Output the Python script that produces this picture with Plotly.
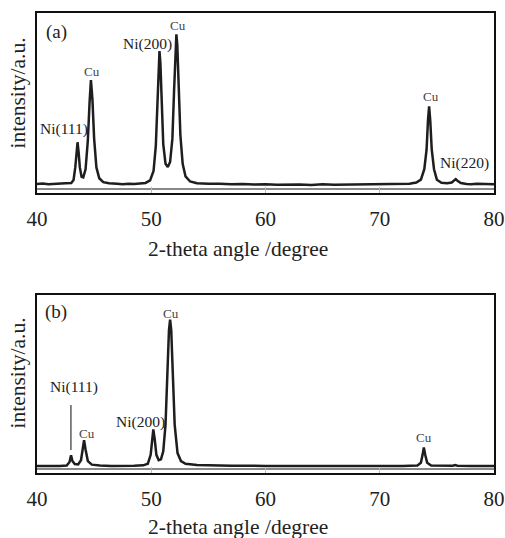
import plotly.graph_objects as go

# ---------------- data ----------------
# panel (a)
two_theta_a = [40.0, 40.5, 41.0, 41.5, 42.0, 42.5, 43.0, 43.2, 43.35, 43.45, 43.55, 43.65, 43.75,
               43.9, 44.05, 44.25, 44.45, 44.6, 44.72, 44.85, 45.0, 45.2, 45.45, 45.8, 46.3,
               47.0, 47.5, 48.0, 48.5, 49.0, 49.5, 49.9, 50.2, 50.4, 50.55, 50.65, 50.72,
               50.8, 50.9, 51.05, 51.25, 51.45, 51.65, 51.85, 52.0, 52.12, 52.2, 52.28, 52.4,
               52.55, 52.75, 53.0, 53.4, 54.0, 55.0, 56.0, 57.0, 58.0, 59.0, 60.0, 61.0,
               62.0, 63.0, 64.0, 65.0, 66.0, 67.0, 68.0, 69.0, 70.0, 71.0, 72.0, 72.6,
               73.2, 73.6, 73.9, 74.1, 74.22, 74.32, 74.42, 74.55, 74.75, 75.0, 75.4, 75.9,
               76.3, 76.5, 76.65, 76.8, 77.1, 77.6, 78.0, 78.5, 79.0, 79.5, 80.0]
intensity_a = [2.8, 3.1, 2.7, 3.0, 2.9, 3.2, 3.4, 5.0, 12.0, 20.0, 26.0, 20.0, 12.0,
               6.8, 6.5, 11.0, 27.0, 48.0, 60.5, 50.0, 28.0, 12.0, 6.0, 3.8, 3.2,
               3.0, 2.7, 3.0, 2.8, 3.1, 3.4, 4.8, 10.0, 24.0, 48.0, 70.0, 76.7,
               70.0, 48.0, 25.0, 14.0, 12.2, 15.0, 28.0, 55.0, 80.0, 86.0, 80.0, 55.0,
               30.0, 14.0, 7.0, 4.2, 3.2, 2.9, 3.0, 2.6, 2.8, 2.5, 2.7, 2.4,
               2.6, 2.5, 2.3, 2.6, 2.4, 2.5, 2.3, 2.6, 2.5, 2.7, 2.8, 3.0,
               3.6, 5.2, 11.0, 22.0, 38.0, 46.0, 38.0, 22.0, 11.0, 5.2, 3.5, 3.2,
               3.6, 4.8, 5.5, 4.6, 3.3, 2.8, 2.6, 2.9, 2.7, 2.9, 2.6]

# panel (b)
two_theta_b = [40.0, 41.0, 42.0, 42.6, 42.85, 42.98, 43.1, 43.3, 43.6, 43.85, 44.0, 44.12,
               44.25, 44.45, 44.8, 45.5, 46.5, 47.5, 48.5, 49.3, 49.7, 49.95, 50.08, 50.18,
               50.3, 50.45, 50.65, 50.85, 51.05, 51.25, 51.42, 51.55, 51.65, 51.75, 51.88,
               52.05, 52.3, 52.6, 53.0, 54.0, 55.0, 56.0, 57.0, 60.0, 63.0, 66.0, 69.0,
               72.0, 73.3, 73.6, 73.75, 73.86, 73.98, 74.15, 74.5, 75.5, 76.4, 76.6, 76.8,
               78.0, 80.0]
intensity_b = [1.8, 1.7, 1.8, 2.0, 4.0, 7.8, 4.5, 2.8, 2.6, 5.0, 11.0, 16.2,
               11.0, 4.5, 2.5, 2.0, 1.8, 1.7, 1.9, 2.1, 3.0, 8.0, 18.0, 22.3,
               17.0, 8.0, 5.0, 5.5, 10.0, 25.0, 55.0, 78.0, 84.0, 78.0, 55.0,
               25.0, 9.0, 4.5, 3.0, 2.3, 2.1, 2.2, 1.9, 1.8, 1.7, 1.8, 1.7,
               1.7, 2.0, 3.5, 8.0, 12.1, 8.0, 3.5, 2.0, 1.8, 1.9, 2.3, 1.9,
               1.7, 1.7]

# peak labels: text, x, y, font size
labels_a = ["(a)", "Ni(111)", "Cu", "Ni(200)", "Cu", "Cu", "Ni(220)"]
label_x_a = [41.7, 42.4, 44.85, 49.65, 52.3, 74.45, 77.45]
label_y_a = [87.0, 33.5, 65.5, 80.5, 91.0, 51.5, 14.5]
label_size_a = [19, 15.5, 13, 15.5, 13, 13, 15.5]

labels_b = ["(b)", "Ni(111)", "Cu", "Ni(200)", "Cu", "Cu"]
label_x_b = [41.7, 43.2, 44.4, 49.1, 51.7, 73.9]
label_y_b = [88.0, 46.0, 20.0, 26.5, 87.5, 17.8]
label_size_b = [19, 15.5, 13, 15.5, 13, 13]

# leader line under "Ni(111)" in panel (b)
leader_x_b = [42.97, 42.97]
leader_y_b = [10.7, 36.0]

x_ticks = [40, 50, 60, 70, 80]
x_title = "2-theta angle /degree"
y_title = "intensity/a.u."

# ---------------- figure ----------------
SERIF = "Liberation Serif, Times New Roman, serif"
INK = "#1e1e1e"

fig = go.Figure()
fig.add_trace(go.Scatter(x=two_theta_a, y=intensity_a, mode="lines",
                         line=dict(color=INK, width=2.5), xaxis="x", yaxis="y",
                         showlegend=False, hoverinfo="skip"))
fig.add_trace(go.Scatter(x=two_theta_b, y=intensity_b, mode="lines",
                         line=dict(color=INK, width=2.5), xaxis="x2", yaxis="y2",
                         showlegend=False, hoverinfo="skip"))

W, H = 505, 538


def px(x):
    return x / W


def py(y):
    return 1 - y / H


xdom = [px(37), px(494)]
ydom_a = [py(193), py(13)]
ydom_b = [py(473), py(295)]

common_x = dict(range=[40, 80], tickvals=x_ticks, ticktext=[str(t) for t in x_ticks],
                showline=True, mirror=True, linecolor="#111", linewidth=2,
                ticks="inside", ticklen=6, tickwidth=1, tickcolor="#bbbbbb",
                showgrid=False, zeroline=False, automargin=False,
                tickfont=dict(family=SERIF, size=21, color="#222"),
                ticklabelstandoff=6, domain=xdom)
common_y = dict(range=[-2.2, 97.8], showticklabels=False, ticks="", automargin=False,
                showline=True, mirror=True, linecolor="#111", linewidth=2,
                showgrid=False, zeroline=True, zerolinecolor="#888888", zerolinewidth=1.5)

fig.update_layout(
    width=W, height=H,
    margin=dict(l=0, r=0, t=0, b=0, pad=0, autoexpand=False),
    paper_bgcolor="white", plot_bgcolor="white",
    xaxis=dict(**common_x, anchor="y"),
    yaxis=dict(**common_y, domain=ydom_a, anchor="x"),
    xaxis2=dict(**common_x, anchor="y2"),
    yaxis2=dict(**common_y, domain=ydom_b, anchor="x2"),
)

annotations = []
for t, x, y, s in zip(labels_a, label_x_a, label_y_a, label_size_a):
    annotations.append(dict(text=t, x=x, y=y, xref="x", yref="y", showarrow=False,
                            xanchor="center", yanchor="middle",
                            font=dict(family=SERIF, size=s, color="#222" if t != "Cu" else "#444")))
for t, x, y, s in zip(labels_b, label_x_b, label_y_b, label_size_b):
    annotations.append(dict(text=t, x=x, y=y, xref="x2", yref="y2", showarrow=False,
                            xanchor="center", yanchor="middle",
                            font=dict(family=SERIF, size=s, color="#222" if t != "Cu" else "#444")))

# axis titles
for yc in [py(249), py(527)]:
    annotations.append(dict(text=x_title, x=px(237.5), y=yc, xref="paper", yref="paper",
                            xanchor="center", yanchor="middle",
                            showarrow=False, font=dict(family=SERIF, size=21.5, color="#222")))
for yc in [py(93.5), py(373.5)]:
    annotations.append(dict(text=y_title, x=px(17), y=yc, xref="paper", yref="paper",
                            xanchor="center", yanchor="middle",
                            showarrow=False, textangle=-90,
                            font=dict(family=SERIF, size=21.5, color="#222")))
fig.update_layout(annotations=annotations)

fig.add_shape(type="line", xref="x2", yref="y2",
              x0=leader_x_b[0], x1=leader_x_b[1], y0=leader_y_b[0], y1=leader_y_b[1],
              line=dict(color="#333", width=1.2))

fig.write_html("out.html",
               config={"displayModeBar": False, "staticPlot": True},
               post_script="document.body.style.margin='0px';"
                           "document.body.style.overflow='hidden';")
